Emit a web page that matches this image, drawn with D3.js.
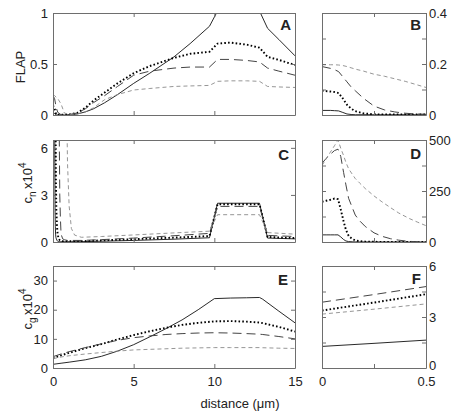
<!DOCTYPE html>
<html><head><meta charset="utf-8">
<script src="https://cdn.jsdelivr.net/npm/d3@7"></script>
<style>
body{margin:0;background:#fff;}
text{font-family:"Liberation Sans",Arial,sans-serif;fill:#222;}
</style>
</head><body>
<svg id="chart" width="467" height="416"></svg>
<script>
// ---------------- DATA ----------------
const seriesNames = ["solid", "dotted", "longDash", "shortDash"];

// Panel A: FLAP vs distance (0-15 um)
const xA = [0, 0.1, 0.2, 0.3, 0.5, 0.7, 1, 1.5, 2, 2.5, 3.2, 4, 5, 6, 7.5, 8.5, 9.7, 10.2, 11, 12, 12.8, 13.3, 14, 15];
const aSolid = [0.018, 0.014, 0.002, 0, 0, 0, 0.002, 0.01, 0.03, 0.06, 0.12, 0.2, 0.31, 0.41, 0.57, 0.7, 0.87, 1.02, 1.1, 1.1, 1.02, 0.85, 0.74, 0.58];
const aDotted = [0.095, 0.06, 0.005, 0.002, 0.002, 0.002, 0.005, 0.02, 0.07, 0.14, 0.22, 0.31, 0.41, 0.48, 0.56, 0.6, 0.62, 0.7, 0.71, 0.69, 0.66, 0.57, 0.54, 0.49];
const aLong = [0.19, 0.16, 0.07, 0.025, 0.003, 0.002, 0.004, 0.02, 0.06, 0.12, 0.19, 0.28, 0.39, 0.43, 0.46, 0.47, 0.47, 0.545, 0.545, 0.535, 0.52, 0.46, 0.43, 0.39];
const aShort = [0.197, 0.19, 0.174, 0.16, 0.108, 0.02, 0.005, 0.01, 0.03, 0.07, 0.15, 0.2, 0.245, 0.26, 0.28, 0.285, 0.29, 0.33, 0.335, 0.335, 0.33, 0.28, 0.275, 0.27];

// Panel B: FLAP, first 0.5 um
const xB = [0, 0.04, 0.06, 0.08, 0.1, 0.12, 0.14, 0.16, 0.2, 0.25, 0.3, 0.35, 0.4, 0.45, 0.5];
const bSolid = [0.018, 0.018, 0.017, 0.016, 0.01, 0.004, 0.002, 0.001, 0.001, 0.001, 0.001, 0.001, 0.001, 0.001, 0.001];
const bDotted = [0.095, 0.092, 0.09, 0.086, 0.065, 0.04, 0.025, 0.015, 0.006, 0.003, 0.002, 0.002, 0.002, 0.002, 0.002];
const bLong = [0.19, 0.183, 0.178, 0.17, 0.15, 0.13, 0.11, 0.095, 0.065, 0.035, 0.02, 0.012, 0.007, 0.004, 0.003];
const bShort = [0.197, 0.197, 0.197, 0.196, 0.194, 0.19, 0.185, 0.18, 0.172, 0.16, 0.152, 0.142, 0.132, 0.12, 0.108];

// Panel C: c_n x10^4 vs distance (0-15 um)
const xC = [0, 0.02, 0.04, 0.06, 0.077, 0.09, 0.104, 0.115, 0.128, 0.145, 0.16, 0.18, 0.208, 0.25, 0.288, 0.33, 0.369, 0.42, 0.46, 0.5, 0.6, 0.7, 0.8, 0.9, 1.0, 1.14, 1.34, 1.76, 3, 5, 7.5, 9.7, 10.2, 12.8, 13.3, 15];
const cSolid = [35, 35, 35, 35, 35, 25, 12, 5, 2, 1, 0.5, 0.3, 0.2, 0.1, 0.05, 0.03, 0.02, 0.02, 0.02, 0.02, 0.02, 0.02, 0.02, 0.02, 0.02, 0.02, 0.02, 0.02, 0.05, 0.1, 0.18, 0.27, 2.47, 2.47, 0.25, 0.2];
const cDotted = [197, 202, 207, 213, 210, 160, 100, 60, 30, 15, 8, 4, 2, 1, 0.5, 0.3, 0.2, 0.1, 0.08, 0.06, 0.05, 0.05, 0.05, 0.05, 0.05, 0.05, 0.05, 0.05, 0.1, 0.18, 0.28, 0.38, 2.41, 2.41, 0.32, 0.25];
const cLong = [385, 410, 430, 448, 455, 420, 340, 280, 214, 170, 132, 105, 76, 45, 28, 16, 9, 3, 1.5, 0.5, 0.2, 0.15, 0.12, 0.1, 0.1, 0.1, 0.1, 0.1, 0.15, 0.25, 0.4, 0.55, 2.27, 2.27, 0.42, 0.35];
const cShort = [375, 407, 440, 472, 500, 460, 423, 390, 359, 333, 311, 290, 262, 226, 197, 168, 142, 115, 97, 80, 45, 25, 12, 5, 2.3, 0.86, 0.44, 0.3, 0.35, 0.45, 0.58, 0.69, 1.74, 1.74, 0.6, 0.5];

// Panel D: c_n x10^4, first 0.5 um
const xD = [0, 0.02, 0.04, 0.06, 0.077, 0.09, 0.104, 0.115, 0.128, 0.145, 0.16, 0.18, 0.208, 0.25, 0.288, 0.33, 0.369, 0.42, 0.46, 0.5];
const dSolid = [35, 35, 35, 35, 35, 25, 12, 5, 2, 1, 0.5, 0.3, 0.2, 0.1, 0.05, 0.03, 0.02, 0.02, 0.02, 0.02];
const dDotted = [197, 202, 207, 213, 210, 160, 100, 60, 30, 15, 8, 4, 2, 1, 0.5, 0.3, 0.2, 0.1, 0.08, 0.06];
const dLong = [385, 410, 430, 448, 455, 420, 340, 280, 214, 170, 132, 105, 76, 45, 28, 16, 9, 3, 1.5, 0.5];
const dShort = [375, 407, 440, 472, 500, 460, 423, 390, 359, 333, 311, 290, 262, 226, 197, 168, 142, 115, 97, 80];

// Panel E: c_g x10^4 vs distance (0-15 um)
const xE = [0, 0.5, 1, 2, 3, 4, 5, 6, 7, 8, 9, 10, 11, 12, 12.8, 13, 14, 15];
const eSolid = [1.27, 1.64, 2.0, 2.8, 4.0, 5.8, 8.0, 10.7, 13.5, 16.5, 20, 23.8, 24.0, 24.1, 24.2, 23.6, 19.5, 15.5];
const eDotted = [3.4, 4.34, 5.2, 6.8, 8.2, 9.8, 11.3, 12.6, 13.8, 14.8, 15.5, 16.0, 16.1, 15.9, 15.6, 15.4, 14.1, 12.5];
const eLong = [3.9, 4.8, 5.6, 7.0, 8.3, 9.5, 10.4, 11.0, 11.5, 11.8, 12.0, 12.1, 12.0, 11.8, 11.6, 11.5, 10.8, 10.0];
const eShort = [3.2, 3.77, 4.2, 4.8, 5.3, 5.8, 6.2, 6.4, 6.6, 6.8, 6.9, 7.0, 7.0, 7.0, 7.0, 6.95, 6.8, 6.7];

// Panel F: c_g x10^4, first 0.5 um
const xF = [0, 0.25, 0.5];
const fSolid = [1.27, 1.45, 1.64];
const fDotted = [3.38, 3.85, 4.34];
const fLong = [3.87, 4.32, 4.79];
const fShort = [3.17, 3.46, 3.77];

// Ticks
const xTicksMain = [0, 5, 10, 15];
const xTicksZoom = [0, 0.25, 0.5];
const xLabelsZoom = ["0", "", "0.5"];
const yTicksA = [0, 0.5, 1], yLabelsA = ["0", "0.5", "1"];
const yTicksB = [0, 0.1, 0.2, 0.3, 0.4], yLabelsB = ["0", "", "0.2", "", "0.4"];
const yTicksC = [0, 3, 6], yLabelsC = ["0", "3", "6"];
const yTicksD = [0, 125, 250, 375, 500], yLabelsD = ["0", "", "250", "", "500"];
const yTicksE = [0, 10, 20, 30], yLabelsE = ["0", "10", "20", "30"];
const yTicksF = [0, 1.5, 3, 4.5, 6], yLabelsF = ["0", "", "3", "", "6"];

// ---------------- DRAWING ----------------
const svg = d3.select("#chart");
const styles = {
  solid: {stroke: "#111", width: 0.9, dash: null, cap: "butt"},
  dotted: {stroke: "#000", width: 1.9, dash: "1.6,2.2", cap: "butt"},
  longDash: {stroke: "#444", width: 1.0, dash: "9,5", cap: "butt"},
  shortDash: {stroke: "#8a8a8a", width: 0.9, dash: "4,3", cap: "butt"}
};
const frameColor = "#6e6e6e";
const textColor = "#2a2a2a";
const L = {x0: 53, x1: 295}, R = {x0: 322, x1: 426};
const rows = [{y0: 13, y1: 115}, {y0: 140, y1: 242}, {y0: 266, y1: 368}];

const panels = [
  {id: "A", col: L, row: rows[0], xd: [0, 15], yd: [0, 1], x: xA, ys: [aSolid, aDotted, aLong, aShort], xt: xTicksMain, xl: null, yt: yTicksA, yl: yLabelsA, side: "left", letterX: 291, letterY: 30},
  {id: "B", col: R, row: rows[0], xd: [0, 0.5], yd: [0, 0.4], x: xB, ys: [bSolid, bDotted, bLong, bShort], xt: xTicksZoom, xl: null, yt: yTicksB, yl: yLabelsB, side: "right", letterX: 421, letterY: 30},
  {id: "C", col: L, row: rows[1], xd: [0, 15], yd: [0, 6.5], x: xC, ys: [cSolid, cDotted, cLong, cShort], xt: xTicksMain, xl: null, yt: yTicksC, yl: yLabelsC, side: "left", letterX: 289, letterY: 160},
  {id: "D", col: R, row: rows[1], xd: [0, 0.5], yd: [0, 500], x: xD, ys: [dSolid, dDotted, dLong, dShort], xt: xTicksZoom, xl: null, yt: yTicksD, yl: yLabelsD, side: "right", letterX: 421, letterY: 159},
  {id: "E", col: L, row: rows[2], xd: [0, 15], yd: [0, 35], x: xE, ys: [eSolid, eDotted, eLong, eShort], xt: xTicksMain, xl: xTicksMain.map(String), yt: yTicksE, yl: yLabelsE, side: "left", letterX: 288, letterY: 285},
  {id: "F", col: R, row: rows[2], xd: [0, 0.5], yd: [0, 6], x: xF, ys: [fSolid, fDotted, fLong, fShort], xt: xTicksZoom, xl: xLabelsZoom, yt: yTicksF, yl: yLabelsF, side: "right", letterX: 421, letterY: 284}
];

panels.forEach(p => {
  const xs = d3.scaleLinear().domain(p.xd).range([p.col.x0, p.col.x1]);
  const ys = d3.scaleLinear().domain(p.yd).range([p.row.y1, p.row.y0]);
  const g = svg.append("g");
  const clipId = "clip" + p.id;
  svg.append("defs").append("clipPath").attr("id", clipId)
    .append("rect").attr("x", p.col.x0).attr("y", p.row.y0)
    .attr("width", p.col.x1 - p.col.x0).attr("height", p.row.y1 - p.row.y0);

  // lines
  const lg = g.append("g").attr("clip-path", `url(#${clipId})`);
  const line = d3.line().x(d => xs(d[0])).y(d => ys(d[1]));
  p.ys.forEach((vals, i) => {
    const st = styles[seriesNames[i]];
    const pts = p.x.map((xv, j) => [xv, vals[j]]);
    lg.append("path").datum(pts).attr("d", line)
      .attr("fill", "none").attr("stroke", st.stroke).attr("stroke-width", st.width)
      .attr("stroke-dasharray", st.dash).attr("stroke-linecap", st.cap)
      .attr("stroke-linejoin", "round");
  });

  // axes (ticks inward on all sides)
  const fmtY = v => p.yl[p.yt.indexOf(v)];
  const axisStyle = a => {
    a.selectAll(".domain").attr("stroke", frameColor).attr("stroke-width", 1);
    a.selectAll(".tick line").attr("stroke", frameColor);
    a.selectAll(".tick text").attr("font-size", 13).attr("fill", textColor)
      .attr("font-family", '"Liberation Sans",Arial,sans-serif');
  };
  const left = d3.axisLeft(ys).tickValues(p.yt).tickSize(-4).tickSizeOuter(0).tickPadding(5)
    .tickFormat(p.side === "left" ? fmtY : () => "");
  const right = d3.axisRight(ys).tickValues(p.yt).tickSize(-4).tickSizeOuter(0).tickPadding(3)
    .tickFormat(p.side === "right" ? fmtY : () => "");
  const bottom = d3.axisBottom(xs).tickValues(p.xt).tickSize(-4).tickSizeOuter(0).tickPadding(9)
    .tickFormat(p.xl ? (v => p.xl[p.xt.indexOf(v)]) : () => "");
  const top = d3.axisTop(xs).tickValues(p.xt).tickSize(-4).tickSizeOuter(0).tickFormat(() => "");
  g.append("g").attr("transform", `translate(${p.col.x0},0)`).call(left).call(axisStyle);
  const rg = g.append("g").attr("transform", `translate(${p.col.x1},0)`).call(right).call(axisStyle);
  g.append("g").attr("transform", `translate(0,${p.row.y1})`).call(bottom).call(axisStyle);
  g.append("g").attr("transform", `translate(0,${p.row.y0})`).call(top).call(axisStyle);
  // bottom "0" label on right axis sits slightly higher so it clears the x tick label
  if (p.side === "right" && p.xl) {
    rg.selectAll(".tick text").filter(function(){ return this.textContent === "0"; }).attr("dy", "0.1em");
  }

  // panel letter
  g.append("text").attr("x", p.letterX).attr("y", p.letterY).attr("text-anchor", "end")
    .attr("font-size", 15).attr("font-weight", "bold").attr("fill", "#111").text(p.id);
});

// y labels
svg.append("text").attr("transform", "translate(25,67) rotate(-90)")
  .attr("text-anchor", "middle").attr("font-size", 13).attr("fill", textColor).text("FLAP");

function subSupLabel(x, y, sub) {
  const t = svg.append("text").attr("transform", `translate(${x},${y}) rotate(-90)`)
    .attr("text-anchor", "middle").attr("font-size", 13).attr("fill", textColor);
  t.append("tspan").text("c");
  t.append("tspan").attr("font-size", 10).attr("dy", 4).text(sub);
  t.append("tspan").attr("dy", -4).text("\u2009x10");
  t.append("tspan").attr("font-size", 10).attr("dy", -6).text("4");
}
subSupLabel(32, 183, "n");
subSupLabel(32, 309, "g");

// x label
svg.append("text").attr("x", 240).attr("y", 408).attr("text-anchor", "middle")
  .attr("font-size", 13).attr("fill", textColor).text("distance (\u03bcm)");
</script>
</body></html>
